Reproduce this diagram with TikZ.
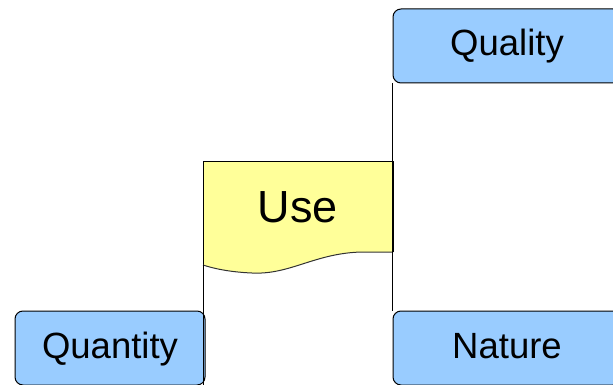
\documentclass[tikz,border=0pt]{standalone}
\usepackage{fontspec}
\setmainfont{Liberation Sans}
\usetikzlibrary{calc}

\definecolor{boxblue}{RGB}{153,204,255}
\definecolor{useyellow}{RGB}{255,255,153}

\begin{document}
\begin{tikzpicture}[x=1pt,y=-1pt,
  box/.style={draw,fill=boxblue,rounded corners=8pt,line width=1pt,inner sep=0pt,
    font=\fontsize{36.5}{40}\selectfont,text height=25pt,text depth=5pt},
  wide box/.style={box,minimum width=228pt,minimum height=74pt},
  small box/.style={box,minimum width=190pt,minimum height=74pt},
  usetext/.style={inner sep=0pt,font=\fontsize{45}{50}\selectfont,text height=25pt,text depth=5pt}]

  \useasboundingbox (0,0) rectangle (613,385);
  \clip (0,0) rectangle (613,385);

  % wavy document shape
  \fill[useyellow] (203,161) -- (393,161) -- (393,252) -- (362,252)
    .. controls (315,253) and (290,275) .. (252,273)
    .. controls (228,272) and (212,268) .. (203,265) -- cycle;
  \draw[line width=1pt] (203,265) -- (203,161) -- (393,161) -- (393,252);
  \draw[line width=1pt,black!80] (393,252) -- (362,252)
    .. controls (315,253) and (290,275) .. (252,273)
    .. controls (228,272) and (212,268) .. (203,265);
  \node[usetext] (use) at (298,212) {Use};
  \coordinate (usecorner) at (203,265);

  \node[wide box] (quality) at (507,46) {Quality};
  \node[wide box] (nature) at (507,348) {Nature};
  \node[small box] (quantity) at (110,348) {Quantity};

  \draw[line width=1pt] (quality.south west) -- (nature.north west);
  \draw[line width=1pt] (usecorner) -- (usecorner |- quantity.south);
\end{tikzpicture}
\end{document}
